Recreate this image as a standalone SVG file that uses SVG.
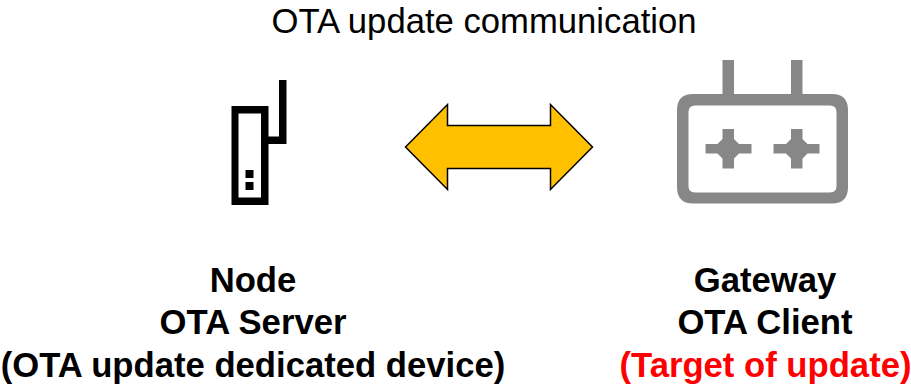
<svg xmlns="http://www.w3.org/2000/svg" width="911" height="385" viewBox="0 0 911 385">
<style>
text{font-family:"Liberation Sans",Arial,sans-serif;font-size:34.67px;text-anchor:middle;fill:#000}
.b{font-weight:700}
.r{fill:#ff0000}
.k{fill:#000}
.g{fill:#878787}
</style>
<rect width="911" height="385" fill="#fff"/>
<text id="title" x="484" y="33">OTA update communication</text>
<g id="node">
<path class="k" fill-rule="evenodd" d="M231.500 106H268.500V136.500H279V80H286.500V144H268.500V205H231.500ZM238.500 113.500V197.500H261V113.500ZM245.500 170H253.500V178H245.500ZM245.500 182H253.500V190H245.500Z"/>
<text class="b" x="253" y="292">Node</text>
<text class="b" x="253" y="334">OTA Server</text>
<text class="b" x="253" y="377">(OTA update dedicated device)</text>
</g>
<g id="gateway">
<path class="g" fill-rule="evenodd" d="M722.500 60H734V94H791V60H802.500V94H832Q848 94 848 110V187Q848 203.500 832 203.500H693Q677 203.500 677 187V110Q677 94 693 94H722.500ZM695 105.500Q688.500 105.500 688.500 112V186Q688.500 192.500 695 192.500H830Q836.500 192.500 836.500 186V112Q836.500 105.500 830 105.500Z"/>
<path id="plus1" class="g" d="M722.500 129H734V139L739 144H751.500V153.500H739L734 158.500V168.500H722.500V158.500L717.500 153.500H705.500V144H717.500L722.500 139Z"/>
<path id="plus2" class="g" d="M791 129H802.500V139L807.500 144H819.500V153.500H807.500L802.500 158.500V168.500H791V158.500L786 153.500H773.500V144H786L791 139Z"/>
<text class="b" x="765" y="292">Gateway</text>
<text class="b" x="765" y="334">OTA Client</text>
<text class="b r" x="765.500" y="377">(Target of update)</text>
</g>
<g id="connectors">
<path d="M405.500 147L447.500 104.500V125.500H550.500V104.500L592.500 147L550.500 189.500V168.500H447.500V189.500Z" fill="#ffc000" stroke="#000" stroke-width="1.500" stroke-linejoin="miter"/>
</g>
</svg>
